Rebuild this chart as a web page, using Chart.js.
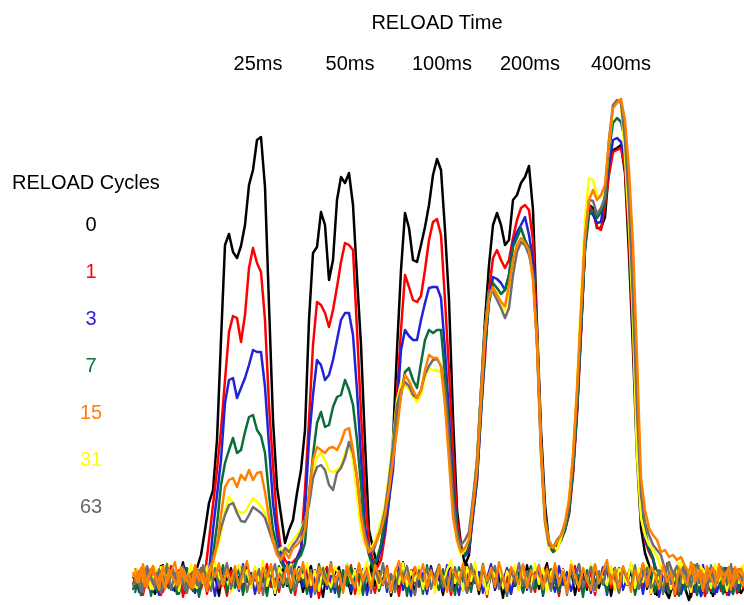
<!DOCTYPE html>
<html lang="en">
<head>
    <meta charset="UTF-8">
    <title>RELOAD Time vs RELOAD Cycles</title>
    <script src="https://cdn.jsdelivr.net/npm/chart.js"></script>
    <style>
        html, body { margin: 0; padding: 0; background: #fff; }
        #wrap { position: relative; width: 744px; height: 605px; overflow: hidden; }
        #traces { position: absolute; left: 0; top: 0; }
        .lbl {
            position: absolute;
            transform: translate(-50%, -50%);
            font-family: "Liberation Sans", Arial, sans-serif;
            font-size: 20px;
            white-space: nowrap;
            color: #000;
        }
    </style>
</head>
<body>
    <div id="wrap">
        <canvas id="traces" width="744" height="605"></canvas>
    </div>

    <script>
        // categories
        const reloadTimes = ['25ms', '50ms', '100ms', '200ms', '400ms'];
        const reloadCycles = ['0', '1', '3', '7', '15', '31', '63'];

        // response traces, one value per sample (arbitrary amplitude units, baseline ~0)
        const cycles0 = [2,10,-3,5,-8,8,0,14,1,-5,6,-10,3,11,-2,4,12,25,
            50,77,90,140,240,335,346,328,322,334,355,395,410,440,443,393,275,160,93,65,37,50,60,87,110,150,
            260,327,333,368,355,300,320,380,403,397,407,375,303,235,137,50,32,15,35,60,85,140,230,310,
            367,352,320,318,335,353,375,405,421,410,350,280,163,70,35,15,25,75,120,190,260,315,355,367,
            355,335,340,380,385,397,403,414,370,255,150,75,37,30,35,40,52,70,110,170,250,335,375,372,
            352,352,363,412,430,432,435,407,325,230,123,52,27,15,
            -5,-15,2,-10,-18,-3,-12,4,-8,-20,-6,3,-14,-9,-2,-16,5,-7,-12,0,-10,-4,-13,-6];
        const cycles1 = [-4,6,-12,3,-8,10,-2,-15,5,-6,8,-10,1,-13,7,-3,4,-9,6,
            40,75,110,150,200,248,264,262,238,265,312,332,317,308,260,175,115,60,30,20,15,18,22,32,
            90,160,235,278,275,267,253,270,293,318,337,335,330,250,167,87,35,20,12,20,
            45,80,125,185,250,305,293,280,278,284,310,340,358,361,345,280,210,130,60,32,25,28,
            65,100,170,223,290,322,330,320,312,320,342,360,372,375,370,340,250,140,65,35,28,32,40,50,
            65,105,165,245,335,375,368,353,350,375,405,428,430,432,412,340,245,140,65,40,28,20,
            8,-6,12,-10,3,-14,6,-4,10,-12,-2,7,-16,4,-8,9,-11,2,-5,11,-13,5,-7];
        const cycles3 = [5,-8,10,-3,7,-12,2,9,-6,4,-10,8,-1,12,-7,3,-9,6,-4,8,
            50,85,120,177,200,202,182,192,202,215,230,228,228,193,135,77,45,25,12,18,10,22,30,
            70,140,185,220,215,200,205,220,240,260,267,267,245,190,122,53,28,15,20,30,
            50,80,110,170,230,250,244,240,240,260,277,292,293,293,282,230,165,97,50,32,24,30,
            65,100,165,230,280,303,301,297,290,305,337,348,355,363,345,320,240,135,65,35,30,35,42,50,
            68,110,170,250,332,370,365,357,358,385,415,440,442,438,422,365,280,157,70,42,30,22,
            -3,9,-11,4,-7,12,-14,1,8,-9,5,-16,3,-6,10,-12,6,-2,-15,7,-8,2,-10];
        const cycles7 = [-10,4,-15,7,-5,2,-12,9,-3,-8,5,-14,3,-6,8,-11,1,-4,10,-7,
            25,55,95,117,130,142,127,130,148,163,165,150,144,127,85,50,33,18,10,15,8,20,25,
            37,85,125,157,168,153,155,173,183,185,200,190,175,140,95,43,25,12,22,35,
            60,90,125,160,185,208,212,200,192,217,240,250,247,250,250,205,150,90,50,32,25,35,
            70,105,170,235,277,297,292,286,290,305,333,342,352,340,332,305,240,135,65,35,28,32,40,50,
            68,110,170,250,330,365,370,362,368,377,430,457,462,458,440,375,257,150,75,50,32,22,
            6,-9,2,-13,8,-4,11,-10,-1,7,-15,4,-6,9,-12,3,-8,12,-5,-14,5,-3,8];
        const cycles15 = [8,-2,12,-6,5,14,-3,7,-9,10,2,-5,13,-1,6,-8,11,3,-4,9,
            18,35,65,93,100,102,93,105,100,110,100,107,108,88,62,38,25,20,28,22,32,35,40,
            50,85,120,133,130,127,132,133,130,138,150,152,130,103,63,40,28,32,40,50,
            65,90,120,150,185,205,199,190,182,190,210,225,222,222,214,175,120,63,40,28,32,40,
            75,110,180,245,282,293,285,278,274,295,320,335,342,337,330,300,235,130,60,40,32,38,45,58,
            80,125,190,270,345,380,390,380,385,395,440,472,477,481,460,410,335,223,102,70,52,45,40,28,30,23,25,20,23,
            14,8,16,2,10,-3,6,12,-1,9,4,13,-5,7,11,0];
        const cycles31 = [3,11,-5,8,0,-9,6,13,-2,9,-6,4,10,-4,7,12,-8,5,1,10,
            20,30,47,70,83,77,70,67,68,75,82,78,74,67,53,40,28,32,25,35,40,45,52,
            60,75,110,123,127,120,110,108,110,114,127,135,120,85,50,35,30,35,45,58,
            75,105,140,180,197,194,191,183,178,185,203,212,210,210,207,180,125,70,40,25,30,42,
            80,120,185,250,288,290,287,278,270,290,317,330,336,335,328,300,240,130,55,32,35,30,42,55,
            80,125,195,280,360,402,400,385,383,390,435,472,480,478,423,355,260,125,62,45,35,30,24,
            12,4,15,-2,9,18,3,11,-4,8,14,0,10,6,-5,13,2,9,-3,11,5,7];
        const cycles63 = [-6,5,-11,2,9,-4,7,-13,4,-1,11,-8,6,-10,3,8,-5,12,-2,6,
            22,35,52,65,75,77,67,59,58,65,73,70,67,62,50,38,30,22,32,28,35,40,48,
            60,75,102,113,115,110,95,90,107,112,122,138,127,103,68,45,32,28,40,52,
            70,100,135,175,190,198,194,185,182,190,206,214,220,221,214,190,140,80,45,35,40,48,
            82,118,185,250,290,288,280,272,262,272,305,328,338,335,325,307,235,125,58,35,32,40,45,55,
            75,120,185,265,340,380,379,366,372,383,440,475,480,477,440,375,280,170,85,57,45,35,30,25,
            10,18,6,14,3,12,-2,9,16,4,-6,11,7,-3,13,1,8,-5,10,2,6];

        // baseline (no-response) traces for each cycle count, same sample spacing
        const base0 = [4,-8,12,-3,7,-14,2,15,-6,9, -11,3,18,-4,6,-13,10,-1,14,-9, 5,-16,8,0,12,-7,3,-12,16,-5,
            9,-2,13,-10,6,-15,1,11,-6,17, -3,8,-12,4,14,-8,2,-17,10,-4, 7,13,-9,3,-14,11,-1,6,-11,15,
            -6,9,-3,12,-16,5,-8,18,-2,7, -13,10,0,-9,14,-5,3,-15,8,12, -7,1,-11,16,-4,6,-14,9,-2,13,
            -10,4,-18,7,11,-6,2,-12,15,-3, 8,-9,5,17,-7,0,-13,10,-5,12, -15,3,8,-10,14,-1,-8,6,11,-16,
            4,-6,13,-3,9,-12,2,16,-9,5, -14,7,-4,12,-11,1,15,-7,8,-17, 3,10,-5,6,-13,14,-2,9,-8,4,
            11,-12,6,-3,15,-9,2,-14,8,-1];
        const base1 = [-9,6,-15,3,11,-4,8,-12,1,14, -6,10,-17,5,-2,13,-10,7,-14,4, 12,-8,2,-16,9,-3,15,-11,6,-5,
            10,-13,3,16,-7,1,-12,8,-4,14, -15,6,-1,11,-9,4,-18,7,13,-6, 2,-11,9,-3,15,-14,5,-8,12,0,
            -13,8,-5,14,-10,3,-16,10,-2,6, 13,-7,4,-12,9,-1,16,-9,5,-15, 7,-4,11,-13,2,14,-8,6,-17,10,
            -3,12,-6,1,-14,9,-10,15,-5,3, -12,8,-1,13,-9,5,-16,11,-4,7, 14,-11,3,-7,10,-15,6,-2,12,-8,
            1,-13,9,-5,16,-10,4,-6,11,-14, 7,-3,13,-9,2,-16,8,-1,10,-12, 5,14,-7,3,-11,9,-4,12,-15,6,
            -2,11,-8,4,-13,15,-5,8,-10,1];
        const base3 = [7,-12,3,13,-5,9,-15,1,11,-7, 4,-10,15,-3,8,-13,2,12,-9,6, -16,10,-4,14,-8,3,-11,16,-2,7,
            -14,5,11,-6,1,-12,9,-3,15,-10, 2,13,-7,6,-17,10,-1,12,-9,4, -13,8,-5,16,-11,3,-8,11,-15,5,
            9,-2,14,-12,6,-6,13,-10,1,-16, 11,-4,7,-14,12,-1,5,-11,15,-8, 3,-15,10,-6,13,-3,8,-13,2,16,
            -9,6,-1,12,-14,4,-7,15,-10,9, -4,11,-16,7,1,-12,14,-5,8,-11, 3,16,-8,5,-13,10,-2,13,-15,6,
            -6,12,-10,2,15,-9,7,-14,11,-3, 9,-17,4,13,-7,1,-11,14,-4,8, -12,6,15,-8,3,-14,10,-2,12,-9,
            5,-6,13,-11,2,14,-13,7,-1,10];
        const base7 = [-13,5,-7,10,-16,3,8,-11,14,-4, 6,-14,1,12,-9,7,-17,4,11,-6, 9,-3,15,-12,2,-8,13,-15,6,-1,
            12,-10,4,-16,9,-5,14,-7,1,-13, 8,-2,11,-14,5,-9,16,-4,7,-12, 3,-17,10,-6,13,-1,6,-15,9,-8,
            14,-11,2,8,-13,4,-5,12,-16,10, -3,7,-14,15,-6,1,-10,11,-8,5, -15,13,-2,6,-12,9,-4,16,-11,3,
            10,-7,1,-16,12,-5,8,-13,4,14, -9,2,-14,7,11,-3,-12,9,-6,13, -1,5,-17,10,-8,15,-4,3,-13,8,
            12,-10,6,-2,14,-15,1,9,-7,11, -12,4,-5,13,-9,7,-16,2,10,-4, 15,-8,3,-13,6,-1,11,-14,8,-6,
            2,-11,14,-3,9,-15,5,12,-7,1];
        const base15 = [12,-2,16,-7,9,4,-10,14,-3,8, 18,-5,11,1,-8,15,-1,7,-11,13, 3,17,-6,10,-2,14,-9,6,19,-4,
            9,-12,12,2,16,-7,5,-3,15,-8, 11,0,18,-6,7,-10,13,4,-5,16, -2,9,-13,14,3,-7,17,-1,10,-9,
            15,5,-4,12,-11,8,19,-3,6,-8, 13,1,16,-9,10,-5,14,2,-12,11, 7,-3,17,-6,9,4,-10,15,-1,12,
            -7,18,3,-11,13,6,-4,16,-8,10, 2,14,-9,11,-2,17,-5,8,-13,15, 5,-6,12,1,-10,16,-3,9,20,-4,
            11,-8,14,3,-12,10,-1,17,-6,13, 6,-9,15,-2,8,-14,12,4,-5,18, -3,10,-11,14,1,-7,16,-4,9,-10,
            13,2,-6,17,-1,11,-8,15,5,-3];
        const base31 = [10,-4,15,2,-9,13,-1,8,17,-6, 5,-11,12,0,16,-7,9,-3,14,-10, 18,3,-5,11,-12,7,15,-2,10,-8,
            14,-1,19,-6,8,-13,12,4,-4,16, -9,11,2,17,-5,9,-11,14,0,-7, 13,6,-10,16,-3,10,-14,8,18,-2,
            7,-8,15,1,-12,12,-4,17,-6,9, -1,14,-9,11,3,-13,16,-5,10,20, -3,8,-11,13,-1,18,-7,5,-14,12,
            4,16,-8,9,-2,15,-10,11,1,-6, 17,-4,12,-12,7,14,-3,10,-9,19, 2,-7,13,-1,16,-11,8,3,-5,14,
            -10,11,6,-4,18,-8,12,-2,15,-13, 9,1,-6,14,-9,10,17,-3,7,-12, 13,-5,11,4,-8,16,-1,9,-11,12,
            6,-3,15,-7,10,2,-10,14,-4,8];
        const base63 = [-5,9,-12,14,3,-8,11,-2,16,-10, 7,-4,13,-13,6,10,-7,15,-1,-11, 12,-6,4,17,-9,8,-3,14,-12,5,
            -1,11,-15,9,2,16,-8,6,-4,13, -10,7,15,-5,10,-14,3,12,-2,18, -7,5,-11,13,1,-9,16,-4,8,-13,
            11,-3,17,-8,6,-12,9,2,14,-6, -15,10,-1,12,-9,5,15,-7,3,-11, 13,-5,8,-13,16,0,-10,11,-3,7,
            14,-9,4,-14,10,-2,17,-6,9,-12, 3,15,-8,6,-11,12,-1,8,-15,11, -4,16,-7,2,13,-10,9,-5,14,-3,
            7,-13,11,1,-6,15,-9,5,12,-8, -2,10,-14,17,-4,8,-11,13,0,-7, 12,-3,6,-12,15,-8,4,10,-5,16,
            -9,7,-1,13,-6,11,-15,3,9,-4];

        const series = [cycles0, cycles1, cycles3, cycles7, cycles15, cycles31, cycles63];
        const baselines = [base0, base1, base3, base7, base15, base31, base63];
        const colors = ['#000000', '#ff0000', '#2222d6', '#0b6e3a', '#ff8000', '#ffff00', '#6e6e6e'];
        // black at the back, orange on top
        const drawOrder = [7, 6, 5, 4, 1, 3, 2];

        const datasets = [];
        series.forEach((vals, k) => {
            datasets.push({
                label: reloadCycles[k],
                data: vals.map((v, i) => ({ x: i, y: v })),
                borderColor: colors[k],
                borderWidth: 2.5,
                borderJoinStyle: 'round',
                pointRadius: 0,
                tension: 0,
                fill: false,
                order: drawOrder[k]
            });
            datasets.push({
                label: reloadCycles[k] + ' baseline',
                data: baselines[k].map((v, i) => ({ x: i + 0.5, y: v })),
                borderColor: colors[k],
                borderWidth: 2.2,
                borderJoinStyle: 'round',
                pointRadius: 0,
                tension: 0,
                fill: false,
                order: drawOrder[k] + 0.5
            });
        });

        new Chart(document.getElementById('traces').getContext('2d'), {
            type: 'line',
            data: { datasets: datasets },
            options: {
                responsive: false,
                animation: false,
                layout: { padding: 0 },
                plugins: { legend: { display: false }, tooltip: { enabled: false } },
                scales: {
                    x: { type: 'linear', display: false, min: -33.25, max: 152.75 },
                    y: { display: false, min: -25, max: 580 }
                }
            }
        });

        // text labels
        const wrap = document.getElementById('wrap');
        function addLabel(text, x, y, color, anchorLeft) {
            const d = document.createElement('div');
            d.className = 'lbl';
            d.textContent = text;
            d.style.left = x + 'px';
            d.style.top = y + 'px';
            if (color) d.style.color = color;
            if (anchorLeft) d.style.transform = 'translate(0, -50%)';
            wrap.appendChild(d);
        }

        addLabel('RELOAD Time', 437, 22);
        const timeX = [258, 350, 442, 530, 621];
        reloadTimes.forEach((t, i) => addLabel(t, timeX[i], 63));

        addLabel('RELOAD Cycles', 12, 182, null, true);
        const labelColors = ['#000000', '#ff0000', '#2a1fd6', '#0b6e3a', '#ff7f0f', '#ffff00', '#666666'];
        reloadCycles.forEach((c, i) => addLabel(c, 91, 224 + i * 47, labelColors[i]));
    </script>
</body>
</html>
